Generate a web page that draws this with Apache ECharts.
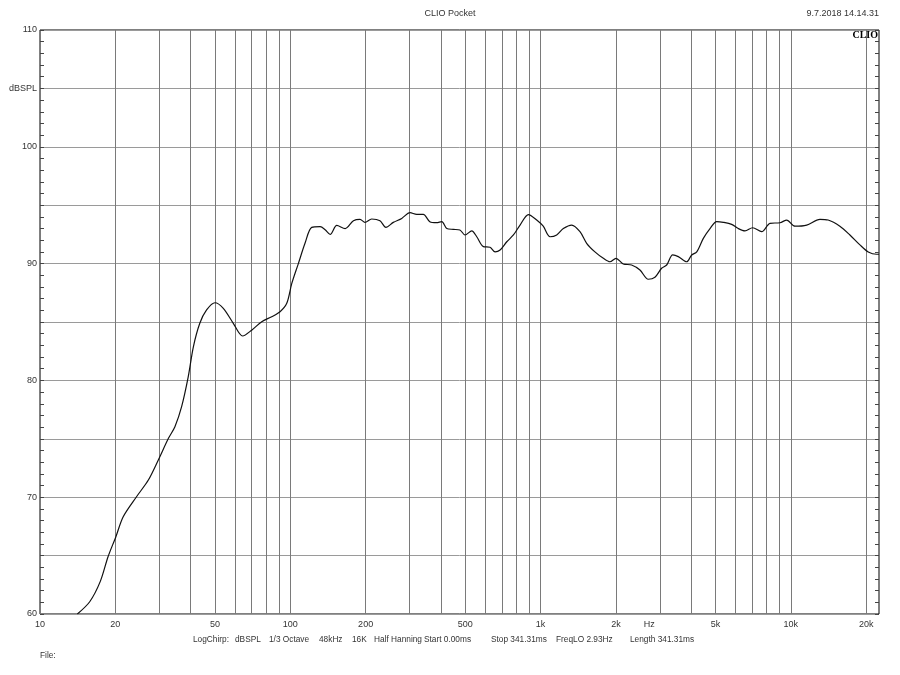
<!DOCTYPE html>
<html>
<head>
<meta charset="utf-8">
<script src="https://cdn.jsdelivr.net/npm/echarts@6/dist/echarts.min.js"></script>
<style>html,body{margin:0;padding:0;background:#fff;}#c{width:900px;height:675px;}</style>
</head>
<body>
<div id="c"></div>
<script>
// Frequency response (Hz -> dBSPL)
const freqHz = [14.1, 15.8, 17.4, 18.7, 20.1, 21.5, 24.3, 27.1, 29.7, 32.6,
  34.6, 36.8, 39.1, 41, 43.5, 46.3, 50, 54, 59.2, 64.5,
  70.1, 76.9, 84.3, 91, 96.8, 101.4, 107.7, 114.5, 121.8, 131.6,
  137.8, 144.3, 153.4, 165.6, 178.8, 189.9, 198.8, 211.4, 228.2, 241,
  258, 278.8, 300.9, 320, 340, 361, 384, 403, 422, 448,
  476, 499, 531, 556, 591, 628, 658, 689, 733, 779,
  828, 894, 965, 1025, 1091, 1160, 1233, 1332, 1437, 1528,
  1649, 1782, 1894, 2001, 2139, 2311, 2495, 2693, 2864, 3045,
  3190, 3372, 3550, 3835, 4017, 4207, 4470, 4753, 5055, 5376,
  5800, 6165, 6557, 7036, 7646, 8255, 9053, 9625, 10385, 11570,
  13070, 14090, 15700, 17220, 18880, 20380, 22020, 22500];
const splDb = [60, 61.05, 62.77, 64.9, 66.62, 68.33, 70.04, 71.47, 73.19, 75.04,
  76.04, 77.75, 80.3, 82.88, 84.89, 86.03, 86.65, 86.17, 84.89, 83.8,
  84.3, 85.03, 85.45, 85.88, 86.6, 88.3, 90.0, 91.74, 93.1, 93.16,
  92.9, 92.5, 93.27, 93.0, 93.67, 93.79, 93.53, 93.82, 93.67, 93.1,
  93.53, 93.87, 94.36, 94.22, 94.22, 93.59, 93.5, 93.59, 93.0, 92.93,
  92.88, 92.45, 92.8, 92.3, 91.45, 91.4, 91.0, 91.16, 91.87, 92.45,
  93.3, 94.2, 93.73, 93.2, 92.3, 92.45, 93.0, 93.3, 92.73, 91.74,
  91.0, 90.45, 90.16, 90.45, 89.97, 89.88, 89.45, 88.66, 88.83, 89.6,
  89.88, 90.74, 90.6, 90.16, 90.74, 91.0, 92.16, 93.0, 93.59, 93.53,
  93.36, 93.0, 92.8, 93.07, 92.73, 93.45, 93.5, 93.73, 93.2, 93.3,
  93.79, 93.73, 93.2, 92.45, 91.6, 91.0, 90.8, 90.8];

// Axis range and ticks
const freqMin = 10, freqMax = 22500;
const gridFreqs = [10,20,30,40,50,60,70,80,90,100,200,300,400,500,600,700,800,900,
  1000,2000,3000,4000,5000,6000,7000,8000,9000,10000,20000];
const labelFreqs = [10, 20, 50, 100, 200, 500, 1000, 2000, 2716, 5000, 10000, 20000];
const labelTexts = ['10','20','50','100','200','500','1k','2k','Hz','5k','10k','20k'];
const yMin = 60, yMax = 110, yStep = 5;
const yLabelMap = {60:'60',70:'70',80:'80',90:'90',100:'100',105:'dBSPL',110:'110'};

// Footer fields
const footerFields = ['LogChirp:', 'dBSPL', '1/3 Octave', '48kHz', '16K', 'Half Hanning',
  'Start 0.00ms', 'Stop 341.31ms', 'FreqLO 2.93Hz', 'Length 341.31ms'];
const footerX = [193, 235, 269, 319, 352, 374, 424, 491, 556, 630];

const lg = Math.log10;
const chart = echarts.init(document.getElementById('c'), null, {renderer:'canvas'});
const font = 'Liberation Sans, Arial, sans-serif';
const fs = 9;
const ffs = 8.3;

const graphics = [
  {type: 'text', x: 450, y: 14, style: {text: 'CLIO Pocket', font: fs + 'px ' + font, fill: '#333', align: 'center', verticalAlign: 'middle'}},
  {type: 'text', x: 879, y: 14, style: {text: '9.7.2018 14.14.31', font: fs + 'px ' + font, fill: '#333', align: 'right', verticalAlign: 'middle'}},
  {type: 'text', x: 878, y: 35, z: 10, style: {text: 'CLIO', font: 'bold 10px Liberation Serif, DejaVu Serif, serif', fill: '#000', align: 'right', verticalAlign: 'middle'}},
  {type: 'text', x: 40, y: 656, style: {text: 'File:', font: ffs + 'px ' + font, fill: '#333', verticalAlign: 'middle'}}
];
footerFields.forEach((t, i) => graphics.push({type: 'text', x: footerX[i], y: 640,
  style: {text: t, font: ffs + 'px ' + font, fill: '#333', verticalAlign: 'middle'}}));

chart.setOption({
  animation: false,
  backgroundColor: '#fff',
  grid: {left: 40, right: 21, top: 30, bottom: 61, show: true, borderColor: '#000', borderWidth: 1, backgroundColor: 'transparent'},
  xAxis: {
    type: 'value', min: lg(freqMin), max: lg(freqMax),
    axisLine: {show: false},
    axisTick: {show: false, customValues: gridFreqs.map(lg)},
    splitLine: {show: true, lineStyle: {color: '#7a7a7a', width: 1}},
    axisLabel: {
      customValues: labelFreqs.map(lg),
      margin: 6, fontFamily: font, fontSize: fs, color: '#333',
      formatter: function (v) {
        let best = 0, bd = 1e9;
        labelFreqs.forEach((f, i) => { const d = Math.abs(lg(f) - v); if (d < bd) { bd = d; best = i; } });
        return labelTexts[best];
      }
    }
  },
  yAxis: [{
    type: 'value', min: yMin, max: yMax, interval: yStep, position: 'left',
    axisLine: {show: false},
    axisTick: {show: true, inside: true, length: 4, lineStyle: {color: '#444'}},
    minorTick: {show: true, splitNumber: 5, length: 4, lineStyle: {color: '#444'}},
    splitLine: {show: true, lineStyle: {color: '#9a9a9a', width: 1}},
    axisLabel: {margin: 3, fontFamily: font, fontSize: fs, color: '#333',
      formatter: v => (yLabelMap[v] !== undefined ? yLabelMap[v] : '')}
  }, {
    type: 'value', min: yMin, max: yMax, interval: yStep, position: 'right',
    axisLine: {show: false},
    axisTick: {show: true, inside: true, length: 4, lineStyle: {color: '#444'}},
    minorTick: {show: true, splitNumber: 5, length: 4, lineStyle: {color: '#444'}},
    splitLine: {show: false},
    axisLabel: {show: false}
  }],
  series: [{
    type: 'line',
    xAxisIndex: 0, yAxisIndex: 0,
    data: freqHz.map((f, i) => [lg(f), splDb[i]]),
    showSymbol: false, smooth: 0.3,
    lineStyle: {color: '#111', width: 1.2},
    clip: true, z: 5
  }],
  graphic: graphics
});
</script>
</body>
</html>
